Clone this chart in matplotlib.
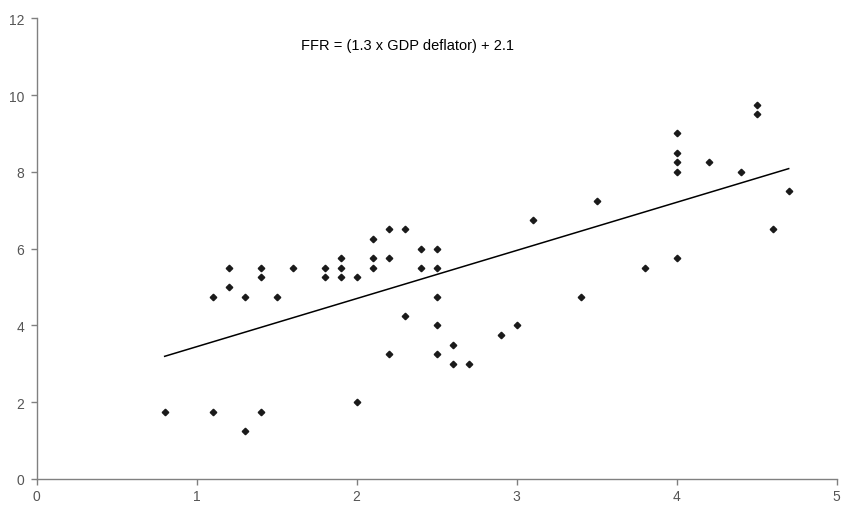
import matplotlib.pyplot as plt
import numpy as np

# GDP deflator (x) vs federal funds rate (y), one entry per observation
deflator = [0.8, 1.1, 1.1, 1.2, 1.2, 1.3, 1.3, 1.4, 1.4, 1.4, 1.5, 1.6,
            1.8, 1.8, 1.9, 1.9, 1.9, 2.0, 2.0, 2.1, 2.1, 2.1, 2.2, 2.2, 2.2,
            2.3, 2.3, 2.4, 2.4, 2.5, 2.5, 2.5, 2.5, 2.5, 2.6, 2.6, 2.7,
            2.9, 3.0, 3.1, 3.4, 3.5, 3.8, 4.0, 4.0, 4.0, 4.0, 4.0, 4.2,
            4.4, 4.5, 4.5, 4.6, 4.7]
ffr = [1.75, 4.75, 1.75, 5.5, 5.0, 4.75, 1.25, 5.5, 5.25, 1.75, 4.75, 5.5,
       5.5, 5.25, 5.75, 5.5, 5.25, 5.25, 2.0, 6.25, 5.75, 5.5, 6.5, 5.75, 3.25,
       6.5, 4.25, 6.0, 5.5, 6.0, 5.5, 4.75, 4.0, 3.25, 3.5, 3.0, 3.0,
       3.75, 4.0, 6.75, 4.75, 7.25, 5.5, 9.0, 8.5, 8.25, 8.0, 5.75, 8.25,
       8.0, 9.75, 9.5, 6.5, 7.5]

x_ticks = [0, 1, 2, 3, 4, 5]
y_ticks = [0, 2, 4, 6, 8, 10, 12]
equation = 'FFR = (1.3 x GDP deflator) + 2.1'

x = np.array(deflator)
y = np.array(ffr)
slope, intercept = np.polyfit(x, y, 1)
fit_x = np.array([x.min(), x.max()])

fig = plt.figure(figsize=(8.43, 5.06), dpi=100)
ax = fig.add_axes([0.0435, 0.0514, 0.949, 0.9105])

ax.plot(fit_x, slope * fit_x + intercept, color='black', lw=1.1, zorder=2)
ax.plot(x, y, linestyle='none', marker='D', markersize=3.3,
        color='#1a1a1a', zorder=3)

ax.set_xlim(0, 5)
ax.set_ylim(0, 12)
ax.set_xticks(x_ticks)
ax.set_yticks(y_ticks)

for side in ('top', 'right'):
    ax.spines[side].set_visible(False)
for side in ('left', 'bottom'):
    ax.spines[side].set_color('#808080')
    ax.spines[side].set_linewidth(1.0)

ax.tick_params(axis='both', colors='#808080', length=4, width=1.0,
               labelcolor='#555555', labelsize=10)
ax.tick_params(axis='x', pad=3.5)
ax.tick_params(axis='y', pad=5)
for lbl in ax.get_xticklabels() + ax.get_yticklabels():
    lbl.set_fontfamily('Liberation Sans')

ax.text(0.4635, 0.942, equation, transform=ax.transAxes, ha='center',
        va='center', fontsize=10.5, family='Liberation Sans', color='black')

fig.savefig('out.png', dpi=100)
